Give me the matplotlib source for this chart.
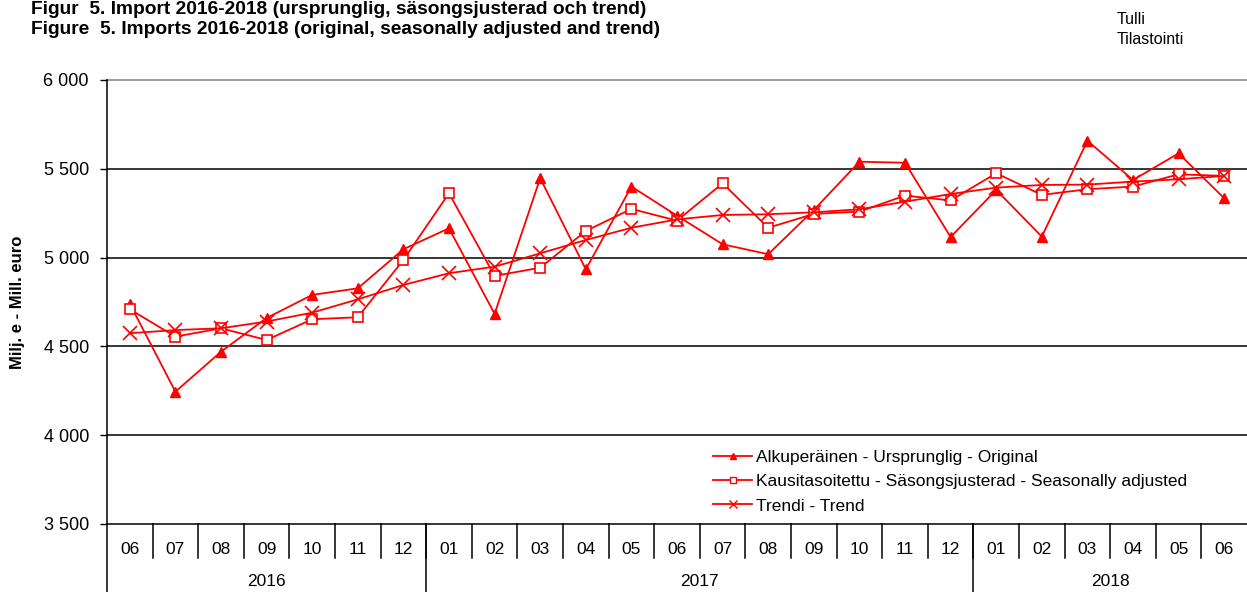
import matplotlib
matplotlib.use("Agg")
import matplotlib.pyplot as plt
from matplotlib.lines import Line2D
from matplotlib.ticker import FuncFormatter, MultipleLocator
import numpy as np

plt.rcParams["font.family"] = ["Liberation Sans", "DejaVu Sans"]

# Monthly imports, million euro (06/2016 - 06/2018)
months = ["06", "07", "08", "09", "10", "11", "12",
          "01", "02", "03", "04", "05", "06", "07", "08", "09", "10", "11", "12",
          "01", "02", "03", "04", "05", "06"]
years = ["2016", "2017", "2018"]
year_counts = [7, 12, 6]

original = [4740, 4245, 4470, 4660, 4790, 4827, 5047,
            5165, 4683, 5447, 4934, 5400, 5236, 5075, 5019, 5268, 5540, 5534, 5116,
            5381, 5118, 5658, 5437, 5587, 5334]
seas_adj = [4709, 4555, 4602, 4536, 4653, 4664, 4987,
            5362, 4897, 4943, 5150, 5274, 5208, 5418, 5168, 5246, 5259, 5349, 5322,
            5475, 5353, 5385, 5400, 5469, 5460]
trend = [4574, 4592, 4602, 4640, 4690, 4765, 4846,
         4912, 4949, 5024, 5099, 5168, 5215, 5240, 5244, 5255, 5272, 5315, 5358,
         5394, 5409, 5411, 5428, 5441, 5460]

labels = ["Alkuperäinen - Ursprunglig - Original",
          "Kausitasoitettu - Säsongsjusterad - Seasonally adjusted",
          "Trendi - Trend"]

red = "#FF0000"

fig = plt.figure(figsize=(12.47, 5.92), dpi=100)
ax = fig.add_axes([107 / 1247, 1 - 524 / 592, 1 - 107 / 1247, 444 / 592])

x = np.arange(len(months))
ax.plot(x, original, color=red, lw=1.3, marker="^", ms=7.5, mfc=red, mec=red, zorder=3)
ax.plot(x, seas_adj, color=red, lw=1.3, marker="s", ms=7, mfc="white", mec=red, mew=1.2, zorder=4)
ax.plot(x, trend, color=red, lw=1.3, marker="x", ms=10.5, mew=1.2, zorder=5)

ax.set_xlim(-0.5, len(months) - 0.5)
ax.set_ylim(3500, 6000)
ax.yaxis.set_major_locator(MultipleLocator(500))
ax.yaxis.set_major_formatter(FuncFormatter(lambda v, p: f"{v:,.0f}".replace(",", " ")))
ax.tick_params(axis="y", length=5, width=1, pad=8, labelsize=13, direction="out")
ax.set_xticks([])

for v in [4000, 4500, 5000, 5500]:
    ax.axhline(v, color="black", lw=1.1, zorder=1)
ax.axhline(6000, color="#808080", lw=1.1, zorder=1, clip_on=False)

for side in ["top", "right"]:
    ax.spines[side].set_visible(False)
ax.spines["bottom"].set_linewidth(1.1)
ax.spines["left"].set_linewidth(1.1)

# category table under the plot
trans = ax.get_xaxis_transform()
month_depth = -34 / 444
year_depth = -70 / 444
ax.plot([-0.5, -0.5], [0, year_depth], transform=trans, color="black", lw=1.1, clip_on=False)
for i, m in enumerate(months):
    ax.text(i, -25 / 444, m, transform=trans, ha="center", va="center", fontsize=12.5)
    if i > 0:
        ax.plot([i - 0.5, i - 0.5], [0, month_depth], transform=trans,
                color="black", lw=1.1, clip_on=False)
start = 0
for yr, n in zip(years, year_counts):
    ax.text(start + (n - 1) / 2, -57 / 444, yr, transform=trans, ha="center", va="center", fontsize=12.5)
    start += n
    if start < len(months):
        ax.plot([start - 0.5, start - 0.5], [0, year_depth], transform=trans,
                color="black", lw=1.1, clip_on=False)

fig.text(18 / 1247, 1 - 302 / 592, "Milj. e - Mill. euro", fontsize=12, fontweight="bold",
         rotation=90, ha="center", va="center")

handles = [
    Line2D([], [], color=red, lw=1.3, marker="^", ms=5, mfc=red, mec=red),
    Line2D([], [], color=red, lw=1.3, marker="s", ms=5, mfc="white", mec=red),
    Line2D([], [], color=red, lw=1.3, marker="x", ms=6),
]
ax.legend(handles, labels, loc="upper left", bbox_to_anchor=(606 / 1140, 74 / 444),
          frameon=False, fontsize=12.5, handlelength=2.25, handletextpad=0.25,
          labelspacing=0.52, borderaxespad=0, borderpad=0)

fig.text(31 / 1247, 1 - 14 / 592, "Figur  5. Import 2016-2018 (ursprunglig, säsongsjusterad och trend)",
         fontsize=13.8, fontweight="bold", va="baseline", ha="left")
fig.text(31 / 1247, 1 - 34 / 592, "Figure  5. Imports 2016-2018 (original, seasonally adjusted and trend)",
         fontsize=13.8, fontweight="bold", va="baseline", ha="left")
fig.text(1117 / 1247, 1 - 19 / 592, "Tulli", fontsize=11.5, va="center", ha="left")
fig.text(1117 / 1247, 1 - 40 / 592, "Tilastointi", fontsize=11.5, va="center", ha="left")

fig.savefig("out.png", dpi=100)
